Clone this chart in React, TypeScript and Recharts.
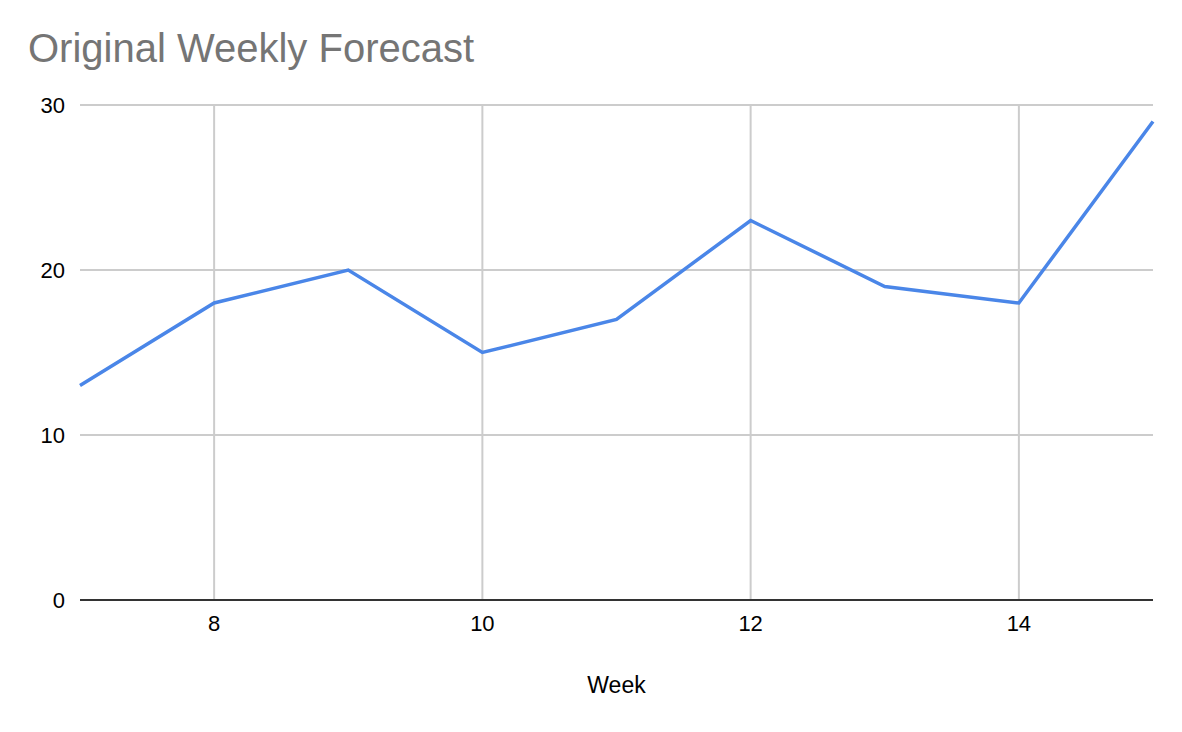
import { CartesianGrid, Line, LineChart, XAxis, YAxis } from "recharts";

const weeks = [7, 8, 9, 10, 11, 12, 13, 14, 15];
const forecast = [13, 18, 20, 15, 17, 23, 19, 18, 29];
const weekTicks = [8, 10, 12, 14];
const valueTicks = [0, 10, 20, 30];

const data = weeks.map((week, i) => ({ week, forecast: forecast[i] }));

const font = "'Liberation Sans', Arial, sans-serif";

// only draw vertical grid lines at the week ticks, not at the plot edges
const weekGridLines = (props: any) => {
  const scale = props.xAxis?.scale;
  if (typeof scale === "function") return weekTicks.map((t) => scale(t));
  const { left, width } = props.offset;
  return weekTicks.map((t) => left + ((t - 7) / 8) * width);
};

export default function App() {
  return (
    <div style={{ position: "absolute", left: 0, top: 0, width: 1182, height: 732, background: "#fff", fontFamily: font }}>
      <LineChart width={1182} height={732} data={data} margin={{ top: 105, right: 29, bottom: 32, left: 0 }}>
        <text x={28} y={62} fontSize={40} fill="#757575" fontFamily={font}>
          Original Weekly Forecast
        </text>
        <CartesianGrid stroke="#cccccc" strokeWidth={2} verticalCoordinatesGenerator={weekGridLines} />
        <XAxis
          dataKey="week"
          type="number"
          domain={[7, 15]}
          ticks={weekTicks}
          tickLine={false}
          tickSize={0}
          tickMargin={15}
          height={100}
          axisLine={{ stroke: "#333333", strokeWidth: 2 }}
          tick={{ fill: "#000", fontSize: 22, fontFamily: font }}
          label={{ value: "Week", position: "insideBottom", offset: 7, fill: "#000", fontSize: 23, fontFamily: font }}
        />
        <YAxis
          type="number"
          domain={[0, 30]}
          ticks={valueTicks}
          width={80}
          tickLine={false}
          tickSize={0}
          tickMargin={15}
          axisLine={false}
          tick={{ fill: "#000", fontSize: 22, fontFamily: font }}
        />
        <Line
          type="linear"
          dataKey="forecast"
          stroke="#4a86e8"
          strokeWidth={3.5}
          dot={false}
          isAnimationActive={false}
        />
      </LineChart>
    </div>
  );
}
